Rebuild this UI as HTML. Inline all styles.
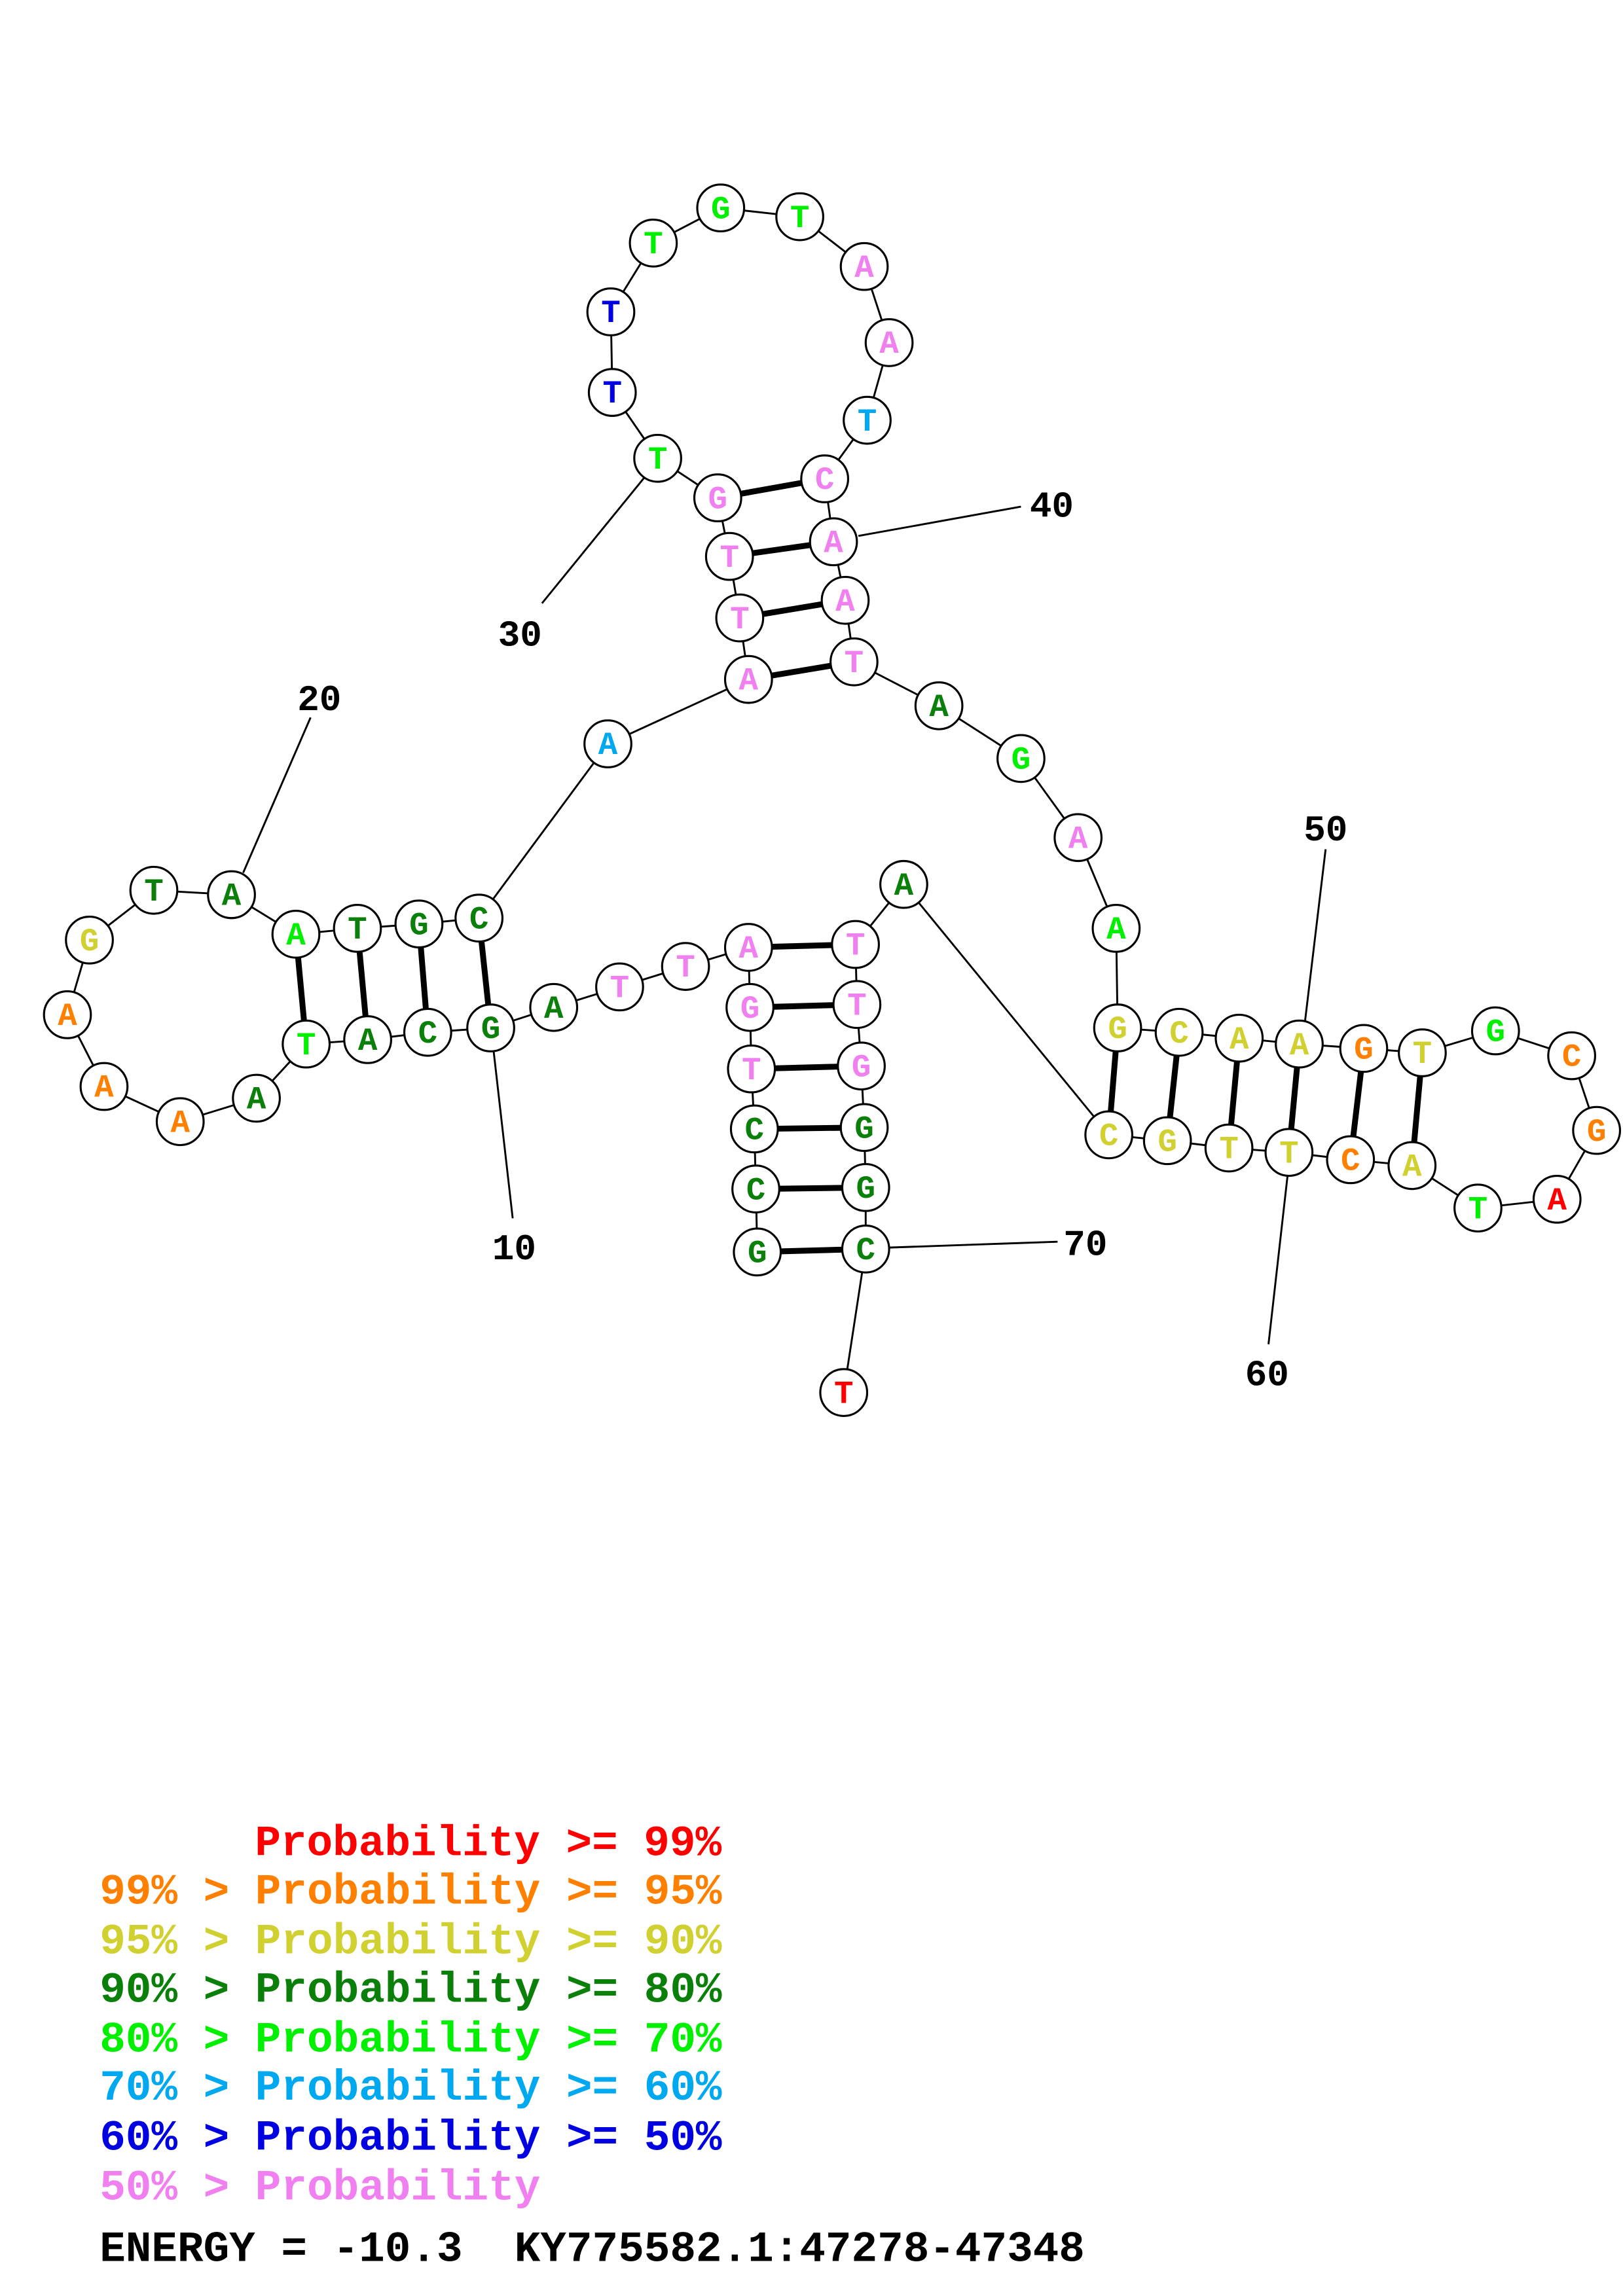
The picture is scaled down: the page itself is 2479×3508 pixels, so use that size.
<!DOCTYPE html>
<html><head><meta charset="utf-8"><style>html,body{margin:0;padding:0;background:#fff}svg{display:block}
.n circle{fill:#fff;stroke:#000;stroke-width:1.4}
.n text{font-family:"Liberation Mono",monospace;font-weight:bold;font-size:22px;text-anchor:middle}
.k{fill:#0a800a}.p{fill:#f080f0}.g{fill:#00f000}.o{fill:#ff8000}.y{fill:#d0d030}.c{fill:#00a8f0}.b{fill:#0000e0}.r{fill:#f00}
.lg text{white-space:pre}
</style></head><body>
<svg width="2479" height="3508" viewBox="0 0 1108 1568" xmlns="http://www.w3.org/2000/svg">
<g stroke="#000" stroke-width="1.3">
<line x1="337" y1="718" x2="350" y2="832"/>
<line x1="166" y1="596" x2="212" y2="490"/>
<line x1="440" y1="326" x2="370" y2="412"/>
<line x1="586" y1="366" x2="697" y2="346"/>
<line x1="891" y1="697" x2="905" y2="580"/>
<line x1="879" y1="803" x2="866" y2="918"/>
<line x1="607" y1="852" x2="722" y2="848"/>
</g>
<g font-family="Liberation Mono, monospace" font-weight="bold" font-size="25" text-anchor="middle" fill="#000">
<text x="351" y="860">10</text><text x="218" y="485">20</text><text x="355" y="441">30</text>
<text x="718" y="353">40</text><text x="905" y="574">50</text><text x="865" y="946">60</text><text x="741" y="857">70</text>
</g>
<path stroke="#000" stroke-width="1.3" fill="none" d="M517 855 L516 812 L515 771 L513 730 L512 688 L511 647 L468 660 L423 674 L378 688 L335 702 L292 705 L251 710 L209 713 L175 750 L123 766 L71 742 L46 693 L61 642 L105 608 L158 611 L202 638 L244 634 L286 631 L327 627 L415 508 L511 464 L505 422 L498 380 L490 340 L449 313 L418 268 L417 213 L446 166 L492 142 L546 148 L590 182 L607 234 L592 287 L563 327 L569 370 L577 410 L583 452 L641 482 L697 518 L736 572 L762 634 L763 702 L805 705 L846 709 L887 713 L931 716 L971 719 L1021 704 L1073 721 L1090 772 L1063 819 L1009 825 L964 796 L922 792 L880 787 L839 784 L797 779 L757 775 L617 604 L584 645 L585 686 L588 728 L590 770 L591 811 L591 853 L576 951"/>
<g stroke="#000" stroke-width="4">
<line x1="517" y1="855" x2="591" y2="853"/>
<line x1="516" y1="812" x2="591" y2="811"/>
<line x1="515" y1="771" x2="590" y2="770"/>
<line x1="513" y1="730" x2="588" y2="728"/>
<line x1="512" y1="688" x2="585" y2="686"/>
<line x1="511" y1="647" x2="584" y2="645"/>
<line x1="335" y1="702" x2="327" y2="627"/>
<line x1="292" y1="705" x2="286" y2="631"/>
<line x1="251" y1="710" x2="244" y2="634"/>
<line x1="209" y1="713" x2="202" y2="638"/>
<line x1="511" y1="464" x2="583" y2="452"/>
<line x1="505" y1="422" x2="577" y2="410"/>
<line x1="498" y1="380" x2="569" y2="370"/>
<line x1="490" y1="340" x2="563" y2="327"/>
<line x1="763" y1="702" x2="757" y2="775"/>
<line x1="805" y1="705" x2="797" y2="779"/>
<line x1="846" y1="709" x2="839" y2="784"/>
<line x1="887" y1="713" x2="880" y2="787"/>
<line x1="931" y1="716" x2="922" y2="792"/>
<line x1="971" y1="719" x2="964" y2="796"/>
</g>
<g class="n">
<circle cx="517" cy="855" r="16"/><text x="517" y="862" class="k">G</text>
<circle cx="516" cy="812" r="16"/><text x="516" y="819" class="k">C</text>
<circle cx="515" cy="771" r="16"/><text x="515" y="778" class="k">C</text>
<circle cx="513" cy="730" r="16"/><text x="513" y="737" class="p">T</text>
<circle cx="512" cy="688" r="16"/><text x="512" y="695" class="p">G</text>
<circle cx="511" cy="647" r="16"/><text x="511" y="654" class="p">A</text>
<circle cx="468" cy="660" r="16"/><text x="468" y="667" class="p">T</text>
<circle cx="423" cy="674" r="16"/><text x="423" y="681" class="p">T</text>
<circle cx="378" cy="688" r="16"/><text x="378" y="695" class="k">A</text>
<circle cx="335" cy="702" r="16"/><text x="335" y="709" class="k">G</text>
<circle cx="292" cy="705" r="16"/><text x="292" y="712" class="k">C</text>
<circle cx="251" cy="710" r="16"/><text x="251" y="717" class="k">A</text>
<circle cx="209" cy="713" r="16"/><text x="209" y="720" class="g">T</text>
<circle cx="175" cy="750" r="16"/><text x="175" y="757" class="k">A</text>
<circle cx="123" cy="766" r="16"/><text x="123" y="773" class="o">A</text>
<circle cx="71" cy="742" r="16"/><text x="71" y="749" class="o">A</text>
<circle cx="46" cy="693" r="16"/><text x="46" y="700" class="o">A</text>
<circle cx="61" cy="642" r="16"/><text x="61" y="649" class="y">G</text>
<circle cx="105" cy="608" r="16"/><text x="105" y="615" class="k">T</text>
<circle cx="158" cy="611" r="16"/><text x="158" y="618" class="k">A</text>
<circle cx="202" cy="638" r="16"/><text x="202" y="645" class="g">A</text>
<circle cx="244" cy="634" r="16"/><text x="244" y="641" class="k">T</text>
<circle cx="286" cy="631" r="16"/><text x="286" y="638" class="k">G</text>
<circle cx="327" cy="627" r="16"/><text x="327" y="634" class="k">C</text>
<circle cx="415" cy="508" r="16"/><text x="415" y="515" class="c">A</text>
<circle cx="511" cy="464" r="16"/><text x="511" y="471" class="p">A</text>
<circle cx="505" cy="422" r="16"/><text x="505" y="429" class="p">T</text>
<circle cx="498" cy="380" r="16"/><text x="498" y="387" class="p">T</text>
<circle cx="490" cy="340" r="16"/><text x="490" y="347" class="p">G</text>
<circle cx="449" cy="313" r="16"/><text x="449" y="320" class="g">T</text>
<circle cx="418" cy="268" r="16"/><text x="418" y="275" class="b">T</text>
<circle cx="417" cy="213" r="16"/><text x="417" y="220" class="b">T</text>
<circle cx="446" cy="166" r="16"/><text x="446" y="173" class="g">T</text>
<circle cx="492" cy="142" r="16"/><text x="492" y="149" class="g">G</text>
<circle cx="546" cy="148" r="16"/><text x="546" y="155" class="g">T</text>
<circle cx="590" cy="182" r="16"/><text x="590" y="189" class="p">A</text>
<circle cx="607" cy="234" r="16"/><text x="607" y="241" class="p">A</text>
<circle cx="592" cy="287" r="16"/><text x="592" y="294" class="c">T</text>
<circle cx="563" cy="327" r="16"/><text x="563" y="334" class="p">C</text>
<circle cx="569" cy="370" r="16"/><text x="569" y="377" class="p">A</text>
<circle cx="577" cy="410" r="16"/><text x="577" y="417" class="p">A</text>
<circle cx="583" cy="452" r="16"/><text x="583" y="459" class="p">T</text>
<circle cx="641" cy="482" r="16"/><text x="641" y="489" class="k">A</text>
<circle cx="697" cy="518" r="16"/><text x="697" y="525" class="g">G</text>
<circle cx="736" cy="572" r="16"/><text x="736" y="579" class="p">A</text>
<circle cx="762" cy="634" r="16"/><text x="762" y="641" class="g">A</text>
<circle cx="763" cy="702" r="16"/><text x="763" y="709" class="y">G</text>
<circle cx="805" cy="705" r="16"/><text x="805" y="712" class="y">C</text>
<circle cx="846" cy="709" r="16"/><text x="846" y="716" class="y">A</text>
<circle cx="887" cy="713" r="16"/><text x="887" y="720" class="y">A</text>
<circle cx="931" cy="716" r="16"/><text x="931" y="723" class="o">G</text>
<circle cx="971" cy="719" r="16"/><text x="971" y="726" class="y">T</text>
<circle cx="1021" cy="704" r="16"/><text x="1021" y="711" class="g">G</text>
<circle cx="1073" cy="721" r="16"/><text x="1073" y="728" class="o">C</text>
<circle cx="1090" cy="772" r="16"/><text x="1090" y="779" class="o">G</text>
<circle cx="1063" cy="819" r="16"/><text x="1063" y="826" class="r">A</text>
<circle cx="1009" cy="825" r="16"/><text x="1009" y="832" class="g">T</text>
<circle cx="964" cy="796" r="16"/><text x="964" y="803" class="y">A</text>
<circle cx="922" cy="792" r="16"/><text x="922" y="799" class="o">C</text>
<circle cx="880" cy="787" r="16"/><text x="880" y="794" class="y">T</text>
<circle cx="839" cy="784" r="16"/><text x="839" y="791" class="y">T</text>
<circle cx="797" cy="779" r="16"/><text x="797" y="786" class="y">G</text>
<circle cx="757" cy="775" r="16"/><text x="757" y="782" class="y">C</text>
<circle cx="617" cy="604" r="16"/><text x="617" y="611" class="k">A</text>
<circle cx="584" cy="645" r="16"/><text x="584" y="652" class="p">T</text>
<circle cx="585" cy="686" r="16"/><text x="585" y="693" class="p">T</text>
<circle cx="588" cy="728" r="16"/><text x="588" y="735" class="p">G</text>
<circle cx="590" cy="770" r="16"/><text x="590" y="777" class="k">G</text>
<circle cx="591" cy="811" r="16"/><text x="591" y="818" class="k">G</text>
<circle cx="591" cy="853" r="16"/><text x="591" y="860" class="k">C</text>
<circle cx="576" cy="951" r="16"/><text x="576" y="958" class="r">T</text>
</g>
<g class="lg" font-family="Liberation Mono, monospace" font-weight="bold" font-size="29.5">
<text x="174" y="1267" fill="#f00">Probability &gt;= 99%</text>
<text x="68" y="1300" fill="#ff8000">99% &gt; Probability &gt;= 95%</text>
<text x="68" y="1334" fill="#d0d030">95% &gt; Probability &gt;= 90%</text>
<text x="68" y="1367" fill="#0a800a">90% &gt; Probability &gt;= 80%</text>
<text x="68" y="1401" fill="#00f000">80% &gt; Probability &gt;= 70%</text>
<text x="68" y="1434" fill="#00a8f0">70% &gt; Probability &gt;= 60%</text>
<text x="68" y="1468" fill="#0000e0">60% &gt; Probability &gt;= 50%</text>
<text x="68" y="1502" fill="#f080f0">50% &gt; Probability</text>
<text x="68" y="1544" fill="#000">ENERGY = -10.3  KY775582.1:47278-47348</text>
</g>
</svg>
</body></html>
